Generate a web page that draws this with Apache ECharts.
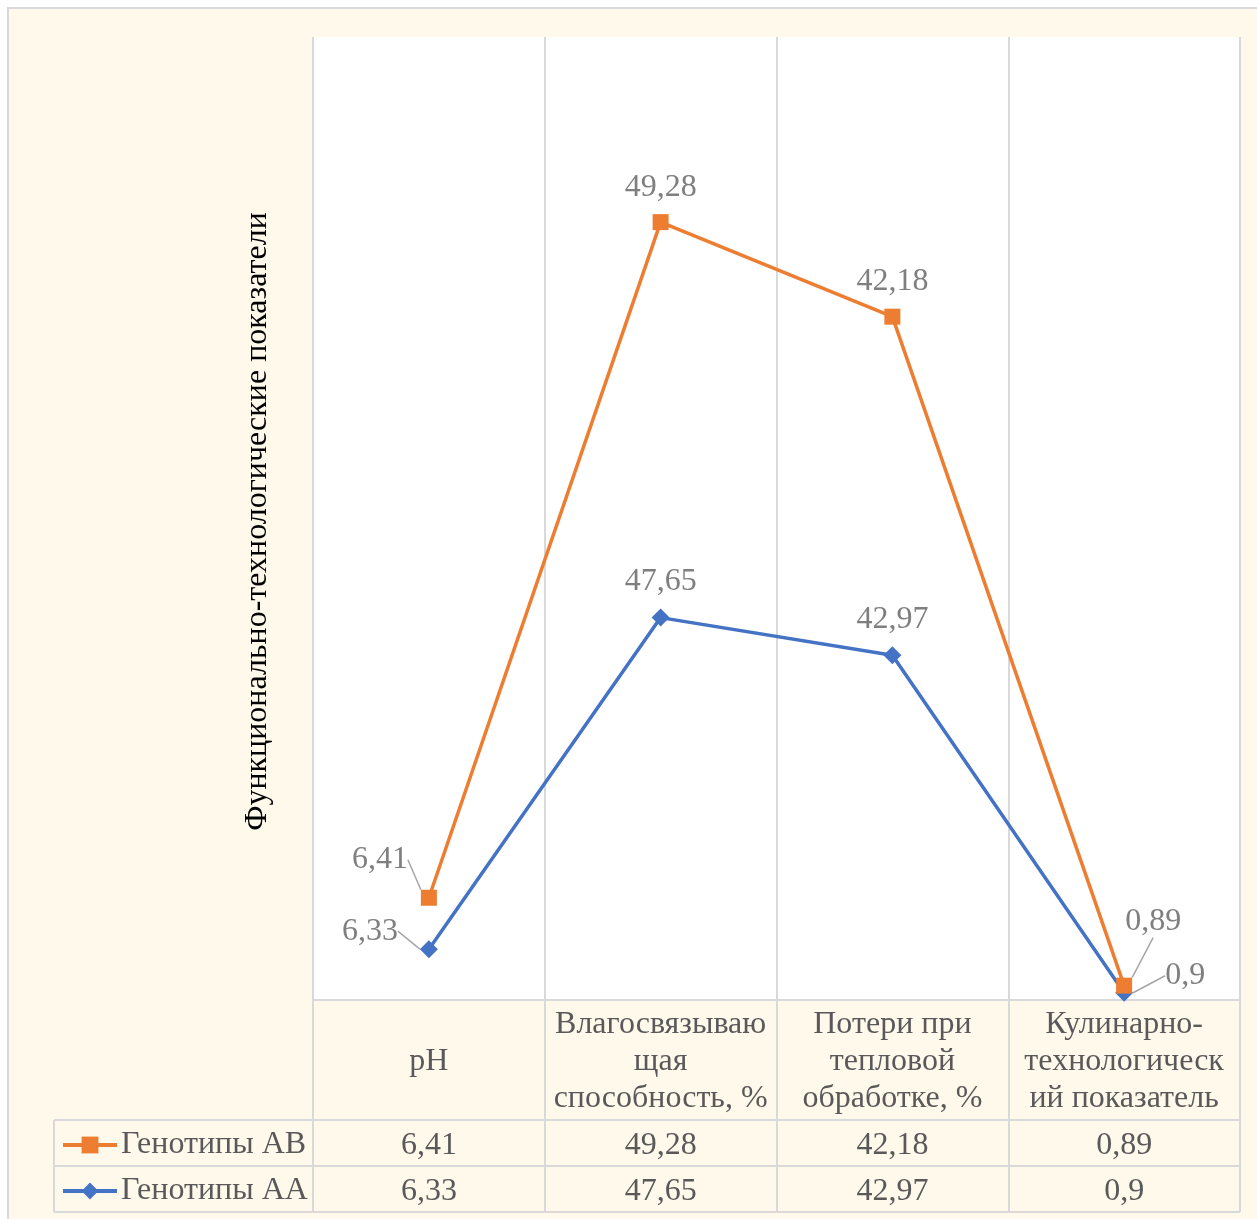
<!DOCTYPE html>
<html>
<head>
<meta charset="utf-8">
<script src="https://cdn.jsdelivr.net/npm/echarts@6/dist/echarts.min.js"></script>
<style>
  html, body { margin: 0; padding: 0; background: #ffffff; }
  #chart { width: 1257px; height: 1219px; }
</style>
</head>
<body>
<div id="chart"></div>
<script>
// Indicators (with the line breaks used in the table header)
const categoryLabels = [
  'pH',
  'Влагосвязываю\nщая\nспособность, %',
  'Потери при\nтепловой\nобработке, %',
  'Кулинарно-\nтехнологическ\nий показатель'
];
const seriesNames = ['Генотипы АВ', 'Генотипы АА'];
const valuesAB = [6.41, 49.28, 42.18, 0.89];
const valuesAA = [6.33, 47.65, 42.97, 0.9];
const yTitle = 'Функционально-технологические показатели';

const FONT = '"Liberation Serif", "Times New Roman", serif';
const FS = 32;
const ORANGE = '#ED7D31';
const BLUE = '#4472C4';
const LINE = '#D9D9D9';
const CREAM = '#FFF9EC';
const TEXT = '#595959';
const LABEL = '#7F7F7F';

// layout of plot + data table
const W = 1257, H = 1219;
const gridLeft = 313, gridRight = 17, gridTop = 37, gridBottom = 219;
const plotBottom = H - gridBottom;          // 1000
const headerH = 120, rowH = 46;
const tableLeft = 54;
const plotRight = W - gridRight;

const fmt = v => String(v).replace('.', ',');

// label offsets (with leader lines) for the crowded points
const offsetsAB = { 0: [-49, -3], 3: [29, -29] };
const offsetsAA = { 0: [-59, 18], 3: [61, 19] };

function withGuides(values, offsets) {
  return values.map((v, i) => offsets[i]
    ? { value: v, labelLine: { show: true } }
    : { value: v });
}

function makeLayout(offsets) {
  return function (p) {
    const o = offsets[p.dataIndex];
    if (!o) return {};
    return { dx: o[0], dy: o[1] };
  };
}

const labelStyle = {
  show: true,
  position: 'top',
  distance: 11,
  color: LABEL,
  fontFamily: FONT,
  fontSize: FS,
  formatter: p => fmt(p.value)
};

const chart = echarts.init(document.getElementById('chart'), null, { renderer: 'canvas' });

const rowAxis = (vals, idx) => ({
  type: 'category',
  gridIndex: 0,
  position: 'bottom',
  offset: headerH + rowH * idx + rowH / 2,
  data: vals.map(fmt),
  axisLine: { show: false },
  axisTick: { show: false },
  splitLine: { show: false },
  axisLabel: {
    interval: 0, margin: 3, verticalAlign: 'middle',
    color: TEXT, fontFamily: FONT, fontSize: FS
  }
});

const option = {
  backgroundColor: '#ffffff',
  animation: false,
  graphic: [
    {
      type: 'rect', z: -10, silent: true,
      shape: { x: 8, y: 8, width: W + 20, height: H + 20 },
      style: { fill: CREAM, stroke: LINE, lineWidth: 2 }
    },
    // horizontal rules of the data table
    ...[0, 1, 2].map(i => ({
      type: 'line', z: 5, silent: true,
      shape: { x1: tableLeft, y1: plotBottom + headerH + rowH * i, x2: plotRight, y2: plotBottom + headerH + rowH * i },
      style: { stroke: LINE, lineWidth: 2 }
    })),
    {
      type: 'line', z: 5, silent: true,
      shape: { x1: tableLeft, y1: plotBottom + headerH, x2: tableLeft, y2: plotBottom + headerH + rowH * 2 },
      style: { stroke: LINE, lineWidth: 2 }
    }
  ],
  legend: {
    orient: 'vertical',
    left: 61,
    top: plotBottom + headerH + rowH / 2 - 14,
    padding: 0,
    itemGap: rowH - 32,
    itemWidth: 54,
    itemHeight: 21,
    data: seriesNames,
    lineStyle: { width: 4 },
    textStyle: { color: TEXT, fontFamily: FONT, fontSize: FS, lineHeight: 32, padding: [0, 0, 0, -1] }
  },
  grid: {
    left: gridLeft, right: gridRight, top: gridTop, bottom: gridBottom,
    show: true, backgroundColor: '#ffffff', borderWidth: 0
  },
  xAxis: [
    {
      type: 'category',
      data: categoryLabels,
      boundaryGap: true,
      axisLine: { show: true, lineStyle: { color: LINE, width: 2 } },
      axisTick: { show: true, interval: 0, length: headerH + rowH * 2, lineStyle: { color: LINE, width: 2 } },
      splitLine: { show: true, interval: 0, lineStyle: { color: LINE, width: 2 } },
      axisLabel: {
        interval: 0, margin: headerH / 2 + 2, verticalAlign: 'middle',
        color: TEXT, fontFamily: FONT, fontSize: FS, lineHeight: 37
      }
    },
    rowAxis(valuesAB, 0),
    rowAxis(valuesAA, 1)
  ],
  yAxis: {
    type: 'value',
    min: 0, max: 120,
    name: yTitle,
    nameLocation: 'middle',
    nameRotate: 90,
    nameGap: 39,
    nameTextStyle: { color: '#000000', fontFamily: FONT, fontSize: FS, padding: [0, 0, 0, -6] },
    axisLine: { show: false },
    axisTick: { show: false },
    axisLabel: { show: false },
    splitLine: { show: false }
  },
  series: [
    {
      name: seriesNames[1],
      type: 'line',
      stack: 'total',
      data: withGuides(valuesAA, offsetsAA),
      symbol: 'diamond',
      symbolSize: 18,
      itemStyle: { color: BLUE },
      lineStyle: { color: BLUE, width: 3.5 },
      label: labelStyle,
      labelLine: { show: false, lineStyle: { color: '#A6A6A6', width: 1.5 } },
      labelLayout: makeLayout(offsetsAA),
      z: 2
    },
    {
      name: seriesNames[0],
      type: 'line',
      stack: 'total',
      data: withGuides(valuesAB, offsetsAB),
      symbol: 'rect',
      symbolSize: 16,
      itemStyle: { color: ORANGE },
      lineStyle: { color: ORANGE, width: 3.5 },
      label: labelStyle,
      labelLine: { show: false, lineStyle: { color: '#A6A6A6', width: 1.5 } },
      labelLayout: makeLayout(offsetsAB),
      z: 3
    }
  ]
};

chart.setOption(option);
</script>
</body>
</html>
